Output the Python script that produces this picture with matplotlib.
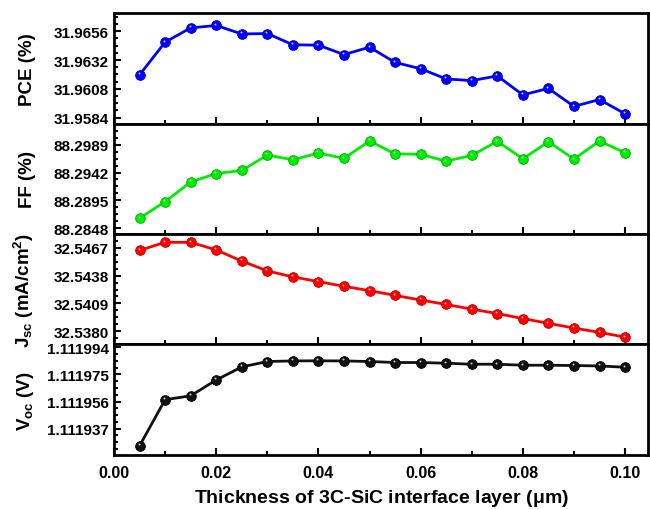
import matplotlib
matplotlib.use("Agg")
import matplotlib.pyplot as plt
from matplotlib.ticker import FixedLocator, MultipleLocator, AutoMinorLocator
from matplotlib.transforms import offset_copy

plt.rcParams['font.family'] = ['Liberation Sans', 'DejaVu Sans']
plt.rcParams['font.weight'] = 'bold'
plt.rcParams['mathtext.fontset'] = 'custom'
plt.rcParams['mathtext.rm'] = 'Liberation Sans:bold'
plt.rcParams['mathtext.it'] = 'Liberation Sans:bold'
plt.rcParams['mathtext.bf'] = 'Liberation Sans:bold'

thickness = [0.005, 0.010, 0.015, 0.020, 0.025, 0.030, 0.035, 0.040, 0.045, 0.050,
             0.055, 0.060, 0.065, 0.070, 0.075, 0.080, 0.085, 0.090, 0.095, 0.100]

pce = [31.96196, 31.96469, 31.96588, 31.96608, 31.96537, 31.96541, 31.96447, 31.96444,
       31.96365, 31.96427, 31.96300, 31.96247, 31.96162, 31.96148, 31.96187, 31.96029,
       31.96083, 31.95933, 31.95990, 31.95871]

ff = [88.28650, 88.28928, 88.29260, 88.29403, 88.29454, 88.29714, 88.29634, 88.29748,
      88.29658, 88.29951, 88.29736, 88.29725, 88.29612, 88.29708, 88.29946, 88.29651,
      88.29939, 88.29646, 88.29951, 88.29753]

jsc = [32.54645, 32.54729, 32.54729, 32.54649, 32.54533, 32.54430, 32.54367, 32.54318,
       32.54269, 32.54223, 32.54174, 32.54125, 32.54079, 32.54030, 32.53984, 32.53931,
       32.53882, 32.53832, 32.53787, 32.53737]

voc = [1.1119250, 1.1119573, 1.1119600, 1.1119711, 1.1119802, 1.1119840, 1.1119844, 1.1119845,
       1.1119844, 1.1119840, 1.1119833, 1.1119833, 1.1119828, 1.1119821, 1.1119821, 1.1119814,
       1.1119814, 1.1119812, 1.1119809, 1.1119800]

pce_ticks = ['31.9584', '31.9608', '31.9632', '31.9656']
ff_ticks = ['88.2848', '88.2895', '88.2942', '88.2989']
jsc_ticks = ['32.5380', '32.5409', '32.5438', '32.5467']
voc_ticks = ['1.111937', '1.111956', '1.111975', '1.111994']

labels = ['PCE (%)', 'FF (%)', r'J$_{\rm sc}$ (mA/cm$^{2}$)', r'V$_{\rm oc}$ (V)']
colors = ['#0000ff', '#00ee00', '#ff0000', '#111111']
edges = ['#0000b0', '#00a800', '#c00000', '#000000']
ylims = [(31.95790, 31.96712), (88.28383, 88.30246), (32.53660, 32.54816), (1.1119186, 1.1119959)]

series = [pce, ff, jsc, voc]
ticks = [pce_ticks, ff_ticks, jsc_ticks, voc_ticks]

fig, axes = plt.subplots(4, 1, sharex=True, figsize=(6.5, 5.1), dpi=100)
fig.subplots_adjust(left=0.1754, right=0.997, top=0.9725, bottom=0.1059, hspace=0)

for ax, y, tk, lab, c, ec, yl in zip(axes, series, ticks, labels, colors, edges, ylims):
    ax.plot(thickness, y, '-o', color=c, lw=2, ms=7, mfc=c, mec=ec, mew=0.6, zorder=3)
    # small specular spot so the markers look like little spheres
    hl = offset_copy(ax.transData, fig=fig, x=-1.0, y=1.6, units='dots')
    ax.plot(thickness, y, 'o', color='white', ms=1.4, mew=0, alpha=0.8, transform=hl, zorder=4)
    ax.set_ylim(*yl)
    ax.yaxis.set_major_locator(FixedLocator([float(t) for t in tk]))
    ax.set_yticklabels(tk)
    ax.yaxis.set_minor_locator(AutoMinorLocator(4))
    ax.set_ylabel(lab, fontsize=13.5, fontweight='bold')
    ax.yaxis.set_label_coords(-0.146, 0.5)
    for s in ax.spines.values():
        s.set_linewidth(2)
    ax.tick_params(which='both', direction='in', top=False, right=False, labelsize=11, width=1.5)
    ax.tick_params(which='major', length=5)
    ax.tick_params(which='minor', length=3)

axes[-1].set_xlim(0, 0.1045)
axes[-1].xaxis.set_major_locator(MultipleLocator(0.02))
axes[-1].xaxis.set_minor_locator(MultipleLocator(0.01))
axes[-1].set_xticklabels([f'{v:.2f}' for v in axes[-1].get_xticks()])
axes[-1].tick_params(axis='x', pad=7, labelsize=11.5)
axes[-1].set_xlabel(r'Thickness of 3C-SiC interface layer ($\mu$m)', fontsize=14, fontweight='bold', labelpad=5)

fig.savefig('out.png', dpi=100)
